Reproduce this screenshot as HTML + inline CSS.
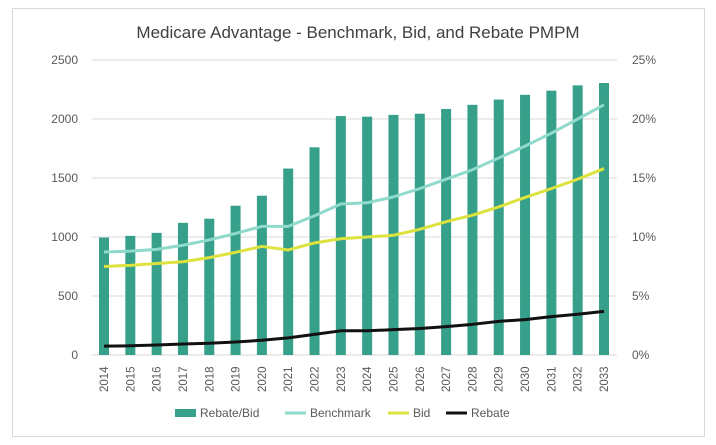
<!DOCTYPE html>
<html><head><meta charset="utf-8"><style>
body{margin:0;background:#fff;font-family:"Liberation Sans",sans-serif;}
svg{display:block}
</style></head><body>
<svg id="chart" width="716" height="445">
<rect x="12.5" y="8.5" width="692" height="428" fill="#fff" stroke="#d9d9d9"/>
<text x="358" y="38" text-anchor="middle" font-size="17" fill="#404040">Medicare Advantage - Benchmark, Bid, and Rebate PMPM</text>
<g id="grid"></g><g id="bars"></g><g id="lines"></g><g id="axes"></g><g id="legend"></g>
</svg>
<script>
const years=[2014,2015,2016,2017,2018,2019,2020,2021,2022,2023,2024,2025,2026,2027,2028,2029,2030,2031,2032,2033];
const rebateBidPct=[9.95,10.1,10.35,11.2,11.55,12.65,13.5,15.8,17.6,20.25,20.2,20.35,20.45,20.85,21.2,21.65,22.05,22.4,22.85,23.05];
const benchmark=[873,880,895,930,975,1030,1090,1090,1180,1280,1290,1340,1410,1490,1570,1670,1770,1880,2000,2120];
const bid=[750,760,775,790,825,870,920,890,950,985,1000,1015,1065,1130,1185,1255,1335,1410,1490,1580];
const rebate=[75,78,85,93,100,110,125,145,175,205,205,215,225,240,260,285,300,325,345,370];
const leftTicks=[0,500,1000,1500,2000,2500];
const rightTicks=[0,5,10,15,20,25];
const NS="http://www.w3.org/2000/svg";
const x0=104,x1=604,yTop=60,yBot=355,plotL=92,plotR=617;
const xs=i=>x0+(x1-x0)*i/(years.length-1);
const yL=v=>yBot-(yBot-yTop)*v/2500;
const yR=v=>yBot-(yBot-yTop)*v/25;
function mk(tag,attrs,parent){const e=document.createElementNS(NS,tag);for(const k in attrs)e.setAttribute(k,attrs[k]);document.getElementById(parent).appendChild(e);return e;}
leftTicks.forEach((t,i)=>{
 const l=mk('line',{x1:plotL,x2:plotR,y1:yL(t),y2:yL(t),stroke:'#d9d9d9'},'grid');
 
 
 const tx=mk('text',{x:78,y:yL(t)+4,'text-anchor':'end','font-size':12,fill:'#595959'},'axes');
 tx.textContent=t;
 
 
});
rightTicks.forEach(t=>{
 const tx=mk('text',{x:632,y:yR(t)+4,'text-anchor':'start','font-size':12,fill:'#595959'},'axes');
 tx.textContent=t+'%';
 
 
});
years.forEach((yr,i)=>{
 const b=mk('rect',{x:xs(i)-5,y:yR(rebateBidPct[i]),width:10,height:yBot-yR(rebateBidPct[i]),fill:'#36a08a'},'bars');
 
 
 const tx=mk('text',{transform:`translate(${xs(i)+4},${392}) rotate(-90)`,'font-size':11.5,fill:'#595959'},'axes');
 tx.textContent=yr;
 
 
});
function line(data,color,name){
 const p=mk('polyline',{points:data.map((v,i)=>xs(i)+','+yL(v)).join(' '),fill:'none',stroke:color,'stroke-width':3,'stroke-linejoin':'round'},'lines');
 
 
}
line(benchmark,'#8fdacb','benchmark-line');
line(bid,'#dde33e','bid-line');
line(rebate,'#111','rebate-line');
const leg=[['Rebate/Bid','#36a08a','rect',175],['Benchmark','#8fdacb','line',285],['Bid','#dde33e','line',388],['Rebate','#111','line',446]];
leg.forEach(([n,c,t,x])=>{
 let m;
 if(t==='rect')m=mk('rect',{x:x,y:409,width:21,height:8,fill:c},'legend');
 else m=mk('line',{x1:x,x2:x+21,y1:413,y2:413,stroke:c,'stroke-width':3},'legend');
 
 
 const tx=mk('text',{x:x+25,y:417,'font-size':12,fill:'#595959'},'legend');
 tx.textContent=n;
 
 
});
</script>
</body></html>
